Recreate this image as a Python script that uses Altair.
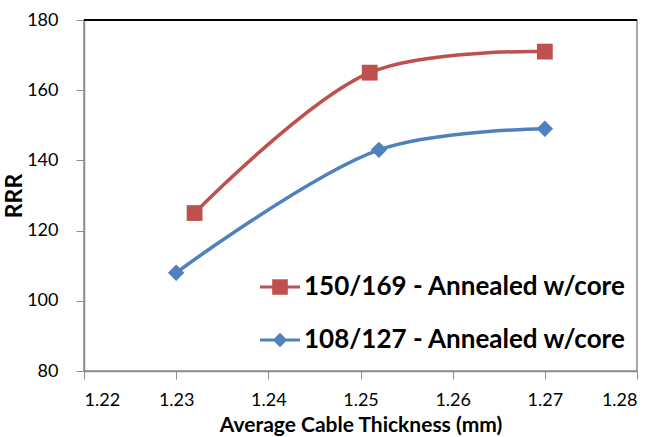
import altair as alt
import pandas as pd

# Series data: average cable thickness (mm) vs. RRR
series_names = ["150/169 - Annealed w/core", "108/127 - Annealed w/core"]
red_x = [1.232, 1.251, 1.270]
red_y = [125, 165, 171]
blue_x = [1.230, 1.252, 1.270]
blue_y = [108, 143, 149]

x_ticks = [1.22, 1.23, 1.24, 1.25, 1.26, 1.27, 1.28]
y_ticks = [80, 100, 120, 140, 160, 180]

colors = ["#C0504D", "#4F81BD"]

df = pd.concat([
    pd.DataFrame({"thickness": red_x, "rrr": red_y, "series": series_names[0]}),
    pd.DataFrame({"thickness": blue_x, "rrr": blue_y, "series": series_names[1]}),
])

W, H = 553, 351
FONT = "Lato"

x_enc = alt.X("thickness:Q",
              scale=alt.Scale(domain=[1.22, 1.28], nice=False, zero=False),
              axis=alt.Axis(values=x_ticks, format=".2f", title="Average Cable Thickness (mm)",
                            grid=False, tickSize=8, labelPadding=12, titlePadding=5))
y_enc = alt.Y("rrr:Q",
              scale=alt.Scale(domain=[80, 180], nice=False, zero=False),
              axis=alt.Axis(values=y_ticks, title="RRR", grid=False, tickSize=8,
                            labelPadding=18, titlePadding=0, titleFontSize=23))
color_scale = alt.Scale(domain=series_names, range=colors)
color_nolegend = alt.Color("series:N", scale=color_scale, legend=None)

lines = alt.Chart(df).mark_line(interpolate="catmull-rom", strokeWidth=3.5).encode(
    x=x_enc, y=y_enc, color=color_nolegend, detail="series:N",
)

base = alt.Chart(df).encode(x="thickness:Q", y="rrr:Q", color=color_nolegend)
squares = base.transform_filter(alt.datum.series == series_names[0]).mark_point(
    shape="square", filled=True, size=250, opacity=1, strokeWidth=0)
diamonds = base.transform_filter(alt.datum.series == series_names[1]).mark_point(
    shape="diamond", filled=True, size=270, opacity=1, strokeWidth=0)

# legend glyphs: a short line segment with the series marker on it
legend_paths = [
    "M-1,-0.08H1V0.08H-1Z M-0.39,-0.39H0.39V0.39H-0.39Z",
    "M-1,-0.08H1V0.08H-1Z M0,-0.36L0.36,0L0,0.36L-0.36,0Z",
]
legend_layers = []
for i, name in enumerate(series_names):
    legend_layers.append(
        alt.Chart(df).transform_filter(alt.datum.series == name)
        .mark_point(filled=True, color=colors[i], opacity=0, size=1600, strokeWidth=0)
        .encode(
            x="thickness:Q", y="rrr:Q",
            shape=alt.Shape(
                "series:N",
                scale=alt.Scale(domain=[name], range=[legend_paths[i]]),
                legend=alt.Legend(title=None, orient="none", legendX=176, legendY=247 + 53 * i,
                                  symbolOpacity=1, symbolSize=1600, symbolStrokeWidth=0,
                                  symbolFillColor=colors[i],
                                  labelFont=FONT, labelFontSize=26, labelFontWeight="bold",
                                  labelColor="black", labelOffset=4,
                                  padding=0, labelLimit=500),
            ),
        )
    )

top_border = alt.Chart(df).mark_rule(color="black", strokeWidth=1.5).encode(
    x=alt.value(0), x2=alt.value(W), y=alt.value(0)
)

chart = alt.layer(lines, squares, diamonds, *legend_layers, top_border).resolve_scale(
    shape="independent"
).properties(
    width=W, height=H,
    autosize=alt.AutoSizeParams(type="none"),
    padding={"left": 84, "top": 20, "right": 25, "bottom": 66},
).configure_view(
    stroke="#8C8C8C", strokeWidth=1.5
).configure_axis(
    domainColor="#8C8C8C", tickColor="#8C8C8C", domainWidth=1.5,
    labelFont=FONT, labelFontSize=18, labelColor="black",
    titleFont=FONT, titleFontSize=21, titleFontWeight="bold", titleColor="black",
)

chart.save("out.html", embed_options={"renderer": "svg", "actions": False})
